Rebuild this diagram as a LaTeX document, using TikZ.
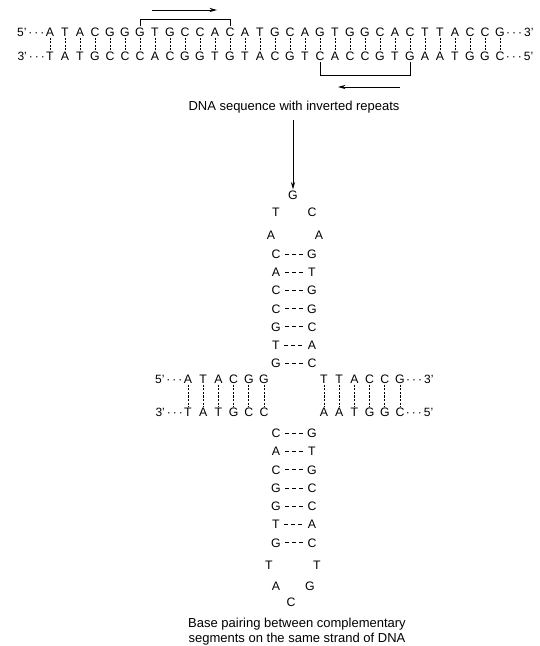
\documentclass[tikz,border=0pt]{standalone}
\usepackage{fontspec}
\setmainfont{Liberation Sans}
\usetikzlibrary{arrows.meta,calc}
\begin{document}
\begin{tikzpicture}[x=1pt,y=-1pt,
  base/.style={font=\fontsize{12.3}{13}\selectfont, inner sep=1pt, text height=8.8pt, text depth=0pt},
  endlbl/.style={font=\fontsize{12}{13}\selectfont, inner sep=0pt, text height=8.6pt, text depth=0pt},
  bond/.style={line width=0.65pt, dash pattern=on 2.2pt off 1.4pt},
  hbond/.style={line width=0.65pt, dash pattern=on 4pt off 3pt, shorten <=3.5pt, shorten >=3.5pt},
  bracket/.style={line width=0.75pt},
  arr/.style={line width=0.85pt, -{Stealth[length=7.5pt,width=4.2pt]}},
  caption/.style={font=\fontsize{13}{15}\selectfont, align=center, inner sep=0pt}]
\useasboundingbox (0,0) rectangle (539,646);
% ---- top double strand ----
\foreach \l [count=\i from 0] in {A,T,A,C,G,G,G,T,G,C,C,A,C,A,T,G,C,A,G,T,G,G,C,A,C,T,T,A,C,C,G}
  \node[base] (t\i) at ({50+15*\i},32) {\l};
\foreach \l [count=\i from 0] in {T,A,T,G,C,C,C,A,C,G,G,T,G,T,A,C,G,T,C,A,C,C,G,T,G,A,A,T,G,G,C}
  \node[base] (b\i) at ({50+15*\i},56) {\l};
\foreach \i in {0,...,30} \draw[bond] (t\i) -- (b\i);
\node[endlbl, anchor=east] (t5p) at (t0.west) {5’\,·\,·\,·};
\node[endlbl, anchor=west] (t3p) at (t30.east) {·\,·\,·\,3’};
\node[endlbl, anchor=east] (b3p) at (b0.west) {3’\,·\,·\,·};
\node[endlbl, anchor=west] (b5p) at (b30.east) {·\,·\,·\,5’};
% brackets and arrows
\coordinate (brT) at (0,19);
\draw[bracket] (t6.north) -- (t6.north |- brT) -- (t12.north |- brT) -- (t12.north);
\coordinate (brB) at (0,75);
\draw[bracket] (b18.south) -- (b18.south |- brB) -- (b24.south |- brB) -- (b24.south);
\coordinate (a1s) at (152,10); \coordinate (a1e) at (217,10);
\draw[arr] (a1s) -- (a1e);
\coordinate (a2s) at (400,87); \coordinate (a2e) at (338,87);
\draw[arr] (a2s) -- (a2e);
\node[caption] (cap1) at (294,107) {DNA sequence with inverted repeats};
% ---- hairpin / cruciform ----
\node[base] (lg) at (293,195) {G};
\coordinate (vs) at (293,120);
\draw[arr] (vs) -- (lg.north);
\node[base] (lt1) at (276,212) {T};
\node[base] (lc1) at (312,212) {C};
\node[base] (la1) at (271,235) {A};
\node[base] (la2) at (319,235) {A};
\foreach \l/\r [count=\i from 1] in {C/G,A/T,C/G,C/G,G/C,T/A,G/C} {
  \node[base] (ul\i) at (276,{254+18.2*(\i-1)}) {\l};
  \node[base] (ur\i) at (312,{254+18.2*(\i-1)}) {\r};
  \draw[hbond] (ul\i) -- (ur\i);
}
% horizontal arms
\foreach \t/\b [count=\i from 0] in {A/T,T/A,A/T,C/G,G/C,G/C} {
  \node[base] (hlt\i) at ({188+15.2*\i},379) {\t};
  \node[base] (hlb\i) at ({188+15.2*\i},412) {\b};
  \draw[bond] (hlt\i) -- (hlb\i);
}
\foreach \t/\b [count=\i from 0] in {T/A,T/A,A/T,C/G,C/G,G/C} {
  \node[base] (hrt\i) at ({324+15.2*\i},379) {\t};
  \node[base] (hrb\i) at ({324+15.2*\i},412) {\b};
  \draw[bond] (hrt\i) -- (hrb\i);
}
\node[endlbl, anchor=east] at (hlt0.west) {5’\,·\,·\,·};
\node[endlbl, anchor=east] at (hlb0.west) {3’\,·\,·\,·};
\node[endlbl, anchor=west] at (hrt5.east) {·\,·\,·\,3’};
\node[endlbl, anchor=west] at (hrb5.east) {·\,·\,·\,5’};
% lower stem
\foreach \l/\r [count=\i from 1] in {C/G,A/T,C/G,G/C,G/C,T/A,G/C} {
  \node[base] (dl\i) at (276,{433+18.3*(\i-1)}) {\l};
  \node[base] (dr\i) at (312,{433+18.3*(\i-1)}) {\r};
  \draw[hbond] (dl\i) -- (dr\i);
}
\node[base] (bt1) at (269,565) {T};
\node[base] (bt2) at (317,565) {T};
\node[base] (ba) at (276,586) {A};
\node[base] (bg) at (310,586) {G};
\node[base] (bc) at (291,602) {C};
\node[caption] (cap2) at (297,632) {Base pairing between complementary\\segments on the same strand of DNA};
\end{tikzpicture}
\end{document}
